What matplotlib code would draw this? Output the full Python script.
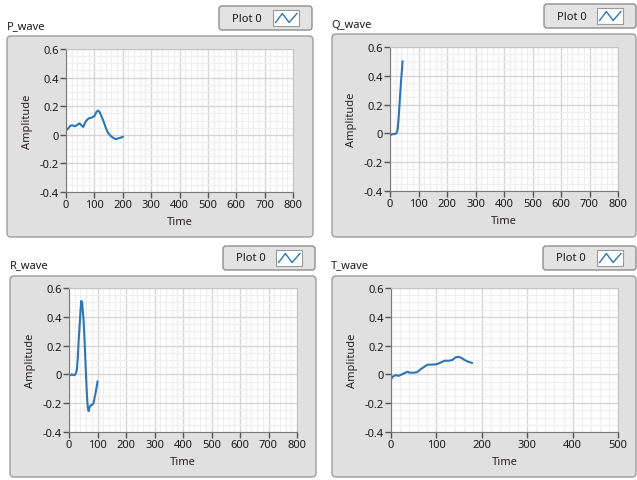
import matplotlib.pyplot as plt
from matplotlib.patches import FancyBboxPatch, Rectangle
from matplotlib.transforms import Affine2D
from matplotlib.ticker import MultipleLocator
from matplotlib.lines import Line2D

plt.rcParams['font.family'] = ['Noto Sans', 'DejaVu Sans']

W, H = 637, 481

# waveform samples
p_time = [0, 8, 16, 24, 32, 40, 48, 55, 61, 66, 72, 80, 90, 100, 106, 112, 118, 125, 132, 140, 148, 156, 165, 175, 185, 192, 200]
p_amp = [0.03, 0.045, 0.065, 0.065, 0.06, 0.07, 0.08, 0.065, 0.055, 0.08, 0.10, 0.115, 0.12, 0.13, 0.155, 0.17, 0.16, 0.13, 0.095, 0.05, 0.015, -0.005, -0.02, -0.03, -0.025, -0.02, -0.015]

q_time = [0, 4, 8, 14, 20, 24, 27, 30, 33, 36, 39, 42, 44]
q_amp = [-0.01, -0.01, -0.005, -0.005, -0.002, 0.005, 0.03, 0.1, 0.19, 0.28, 0.37, 0.44, 0.5]

r_time = [0, 5, 10, 15, 20, 25, 28, 31, 34, 37, 40, 43, 46, 48, 51, 54, 57, 60, 63, 66, 69, 72, 76, 82, 86, 90, 95, 100]
r_amp = [-0.01, -0.005, 0, -0.005, -0.005, 0.01, 0.04, 0.12, 0.24, 0.33, 0.43, 0.51, 0.50, 0.45, 0.38, 0.26, 0.12, -0.02, -0.15, -0.23, -0.255, -0.23, -0.215, -0.21, -0.2, -0.16, -0.11, -0.05]

t_time = [0, 4, 10, 17, 24, 30, 36, 42, 50, 57, 65, 72, 80, 90, 100, 108, 118, 128, 135, 142, 148, 155, 162, 170, 178]
t_amp = [-0.035, -0.015, -0.005, -0.01, 0.0, 0.01, 0.018, 0.012, 0.012, 0.015, 0.035, 0.05, 0.067, 0.068, 0.07, 0.08, 0.095, 0.095, 0.1, 0.118, 0.122, 0.115, 0.1, 0.088, 0.08]

y_ticks = [-0.4, -0.2, 0, 0.2, 0.4, 0.6]
y_labels = ['-0.4', '-0.2', '0', '0.2', '0.4', '0.6']

fig = plt.figure(figsize=(W / 100, H / 100), dpi=100)
fig.patch.set_facecolor('white')
# pixel coordinates, origin top-left
px = Affine2D().scale(1 / W, -1 / H).translate(0, 1) + fig.transFigure

panels = [
    dict(name='P_wave', t=p_time, a=p_amp, xmax=800, frame=(7, 37, 313, 238),
         plot=(66, 50, 293, 193), title=(7, 27), button=(219, 7, 312, 31)),
    dict(name='Q_wave', t=q_time, a=q_amp, xmax=800, frame=(332, 35, 636, 238),
         plot=(390, 48, 618, 192), title=(331, 25), button=(544, 5, 636, 29)),
    dict(name='R_wave', t=r_time, a=r_amp, xmax=800, frame=(10, 277, 316, 478),
         plot=(69, 289, 297, 433), title=(10, 266), button=(223, 247, 315, 271)),
    dict(name='T_wave', t=t_time, a=t_amp, xmax=500, frame=(332, 277, 636, 478),
         plot=(391, 289, 618, 433), title=(331, 266), button=(543, 247, 636, 271)),
]

for p in panels:
    x0, y0, x1, y1 = p['frame']
    fig.patches.append(FancyBboxPatch((x0, y0), x1 - x0, y1 - y0,
                                      boxstyle='round,pad=0,rounding_size=4',
                                      transform=px, facecolor='#e0e0e0',
                                      edgecolor='#9c9c9c', linewidth=1.0, zorder=-2))
    fig.text(p['title'][0] / W, 1 - p['title'][1] / H, p['name'], fontsize=8,
             ha='left', va='center', color='#1a1a1a')

    # legend button
    bx0, by0, bx1, by1 = p['button']
    fig.patches.append(FancyBboxPatch((bx0, by0), bx1 - bx0, by1 - by0,
                                      boxstyle='round,pad=0,rounding_size=3',
                                      transform=px, facecolor='#e3e3e3',
                                      edgecolor='#8e8e8e', linewidth=1.0, zorder=-2))
    fig.text((bx0 + 28) / W, 1 - (by0 + by1) / 2 / H, 'Plot 0', fontsize=8,
             ha='center', va='center', color='#1a1a1a')
    ix0, ix1 = bx1 - 39, bx1 - 13
    iy0, iy1 = by0 + 4, by1 - 4
    fig.patches.append(Rectangle((ix0, iy0), ix1 - ix0, iy1 - iy0, transform=px,
                                 facecolor='white', edgecolor='#9a9a9a', linewidth=0.8, zorder=-1))
    iw, ih = ix1 - ix0, iy1 - iy0
    zx = [ix0 + iw * f for f in (0.1, 0.36, 0.62, 0.92)]
    zy = [iy0 + ih * f for f in (0.78, 0.22, 0.78, 0.22)]
    fig.lines.append(Line2D(zx, zy, transform=px, color='#2e75b6', linewidth=1.0))

    # graph
    a0, b0, a1, b1 = p['plot']
    ax = fig.add_axes([a0 / W, 1 - b1 / H, (a1 - a0) / W, (b1 - b0) / H])
    ax.set_zorder(1)
    ax.set_facecolor('white')
    ax.plot(p['t'], p['a'], color='#2e75b6', linewidth=1.5, solid_joinstyle='round')
    ax.set_xlim(0, p['xmax'])
    ax.set_ylim(-0.4, 0.6)
    ax.xaxis.set_major_locator(MultipleLocator(100))
    ax.xaxis.set_minor_locator(MultipleLocator(20))
    ax.set_yticks(y_ticks)
    ax.set_yticklabels(y_labels)
    ax.yaxis.set_minor_locator(MultipleLocator(0.05))
    ax.grid(which='minor', color='#efefef', linewidth=0.9)
    ax.grid(which='major', color='#d6d6d6', linewidth=1.0)
    ax.set_axisbelow(True)
    ax.tick_params(which='major', length=4, width=1, color='#555555',
                   labelsize=8, labelcolor='#1a1a1a', pad=1)
    ax.tick_params(which='minor', length=0)
    for side in ('left', 'bottom'):
        ax.spines[side].set_color('#7a7a7a')
    for side in ('top', 'right'):
        ax.spines[side].set_color('#c4c4c4')
    ax.set_ylabel('Amplitude', fontsize=8, color='#2b2424')
    ax.set_xlabel('Time', fontsize=8, color='#2b2424')
    ax.yaxis.set_label_coords(-33 / (a1 - a0), 0.5)
    ax.xaxis.set_label_coords(0.5, -24 / (b1 - b0))

fig.savefig('out.png', dpi=100)
